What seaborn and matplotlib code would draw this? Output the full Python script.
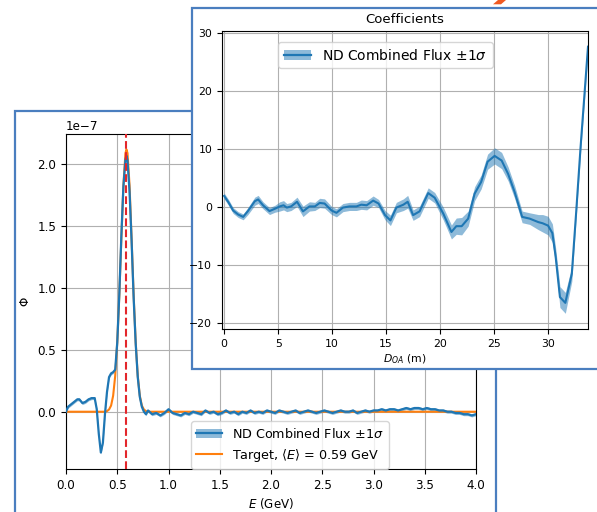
import numpy as np
import pandas as pd
import matplotlib
matplotlib.use("Agg")
import matplotlib.pyplot as plt
from matplotlib.patches import Rectangle, Polygon, Patch
from matplotlib.lines import Line2D
import seaborn as sns

# ---------------- data: back panel (flux, units of 1e-7) ----------------
energy = [0.00, 0.02, 0.05, 0.08, 0.11, 0.13, 0.16, 0.19, 0.22, 0.25, 0.28,
          0.30, 0.32, 0.34, 0.36, 0.38, 0.40, 0.42, 0.44, 0.46, 0.48, 0.49,
          0.50, 0.52, 0.54, 0.56, 0.58, 0.59, 0.60, 0.62, 0.64, 0.66, 0.68,
          0.70, 0.72, 0.74, 0.76, 0.78, 0.80,
          0.84, 0.88, 0.92, 0.96, 1.00, 1.04, 1.08, 1.12, 1.16, 1.20, 1.24,
          1.28, 1.32, 1.36, 1.40, 1.44, 1.48, 1.52, 1.56, 1.60, 1.64, 1.68,
          1.72, 1.76, 1.80, 1.84, 1.88, 1.92, 1.96, 2.00, 2.04, 2.08, 2.12,
          2.16, 2.20, 2.24, 2.28, 2.32, 2.36, 2.40, 2.44, 2.48, 2.52, 2.56,
          2.60, 2.64, 2.68, 2.72, 2.76, 2.80, 2.84, 2.88, 2.92, 2.96, 3.00,
          3.04, 3.08, 3.12, 3.16, 3.20, 3.24, 3.28, 3.32, 3.36, 3.40, 3.44,
          3.48, 3.52, 3.56, 3.60, 3.64, 3.68, 3.72, 3.76, 3.80, 3.84, 3.88,
          3.92, 3.96, 4.00]
nd_flux = [0.00, 0.04, 0.06, 0.08, 0.10, 0.10, 0.07, 0.08, 0.10, 0.11, 0.11,
           0.02, -0.18, -0.33, -0.25, -0.02, 0.16, 0.28, 0.31, 0.32, 0.34, 0.45,
           0.56, 0.95, 1.42, 1.82, 2.04, 2.07, 2.03, 1.78, 1.38, 0.92, 0.55,
           0.28, 0.12, 0.04, 0.00, -0.02, 0.01,
           -0.02, -0.01, -0.03, -0.01, 0.02, -0.01, -0.02, -0.03, -0.01, -0.02, 0.00,
           -0.01, -0.02, 0.01, -0.01, 0.00, -0.02, -0.01, 0.01, -0.01, 0.00, -0.02,
           0.00, -0.01, 0.01, -0.01, 0.00, -0.01, 0.01, 0.00, -0.01, 0.01, 0.00,
           -0.01, 0.00, 0.01, -0.01, 0.00, 0.01, 0.00, -0.01, 0.00, 0.01, 0.00,
           -0.01, 0.00, 0.01, 0.00, 0.00, 0.01, -0.01, 0.00, 0.01, 0.00, 0.01,
           0.01, 0.02, 0.01, 0.02, 0.02, 0.01, 0.02, 0.03, 0.02, 0.03, 0.03,
           0.02, 0.03, 0.02, 0.02, 0.01, 0.01, 0.00, 0.00, -0.01, -0.01, -0.02,
           -0.02, -0.03, -0.02]
nd_err = 0.012

target_energy = [0.00, 0.38, 0.40, 0.42, 0.44, 0.46, 0.48, 0.50, 0.52, 0.54,
                 0.56, 0.58, 0.59, 0.60, 0.62, 0.64, 0.66, 0.68, 0.70, 0.72,
                 0.74, 0.76, 0.78, 0.80, 4.00]
target_flux = [0.00, 0.00, 0.005, 0.018, 0.05, 0.13, 0.29, 0.56, 0.94, 1.40,
               1.83, 2.09, 2.12, 2.09, 1.83, 1.40, 0.94, 0.56, 0.29, 0.13,
               0.05, 0.018, 0.005, 0.00, 0.00]
target_mean = 0.59

# ---------------- data: inset (coefficients) ----------------
d_oa = [0.0, 0.4, 0.83, 1.3, 1.76, 2.2, 2.84, 3.15, 3.6, 4.2, 4.7, 5.15, 5.5,
        5.8, 6.2, 6.75, 7.3, 7.9, 8.4, 8.85, 9.3, 9.95, 10.4, 11.0, 11.6,
        12.25, 12.7, 13.2, 13.8, 14.3, 14.9, 15.4, 15.95, 16.6, 17.0, 17.5,
        18.1, 18.9, 19.5, 20.3, 21.05, 21.5, 22.0, 22.6, 23.2, 23.8, 24.4,
        25.05, 25.7, 26.3, 26.9, 27.6, 28.3, 29.1, 29.5, 30.0, 30.4, 30.7,
        31.1, 31.6, 32.2, 32.6, 33.0, 33.7]
coef = [1.9, 0.8, -0.6, -1.3, -1.7, -0.7, 1.0, 1.3, 0.3, -0.7, -0.3, 0.1, 0.3,
        -0.1, 0.1, 0.9, -0.75, 0.1, 0.1, 0.7, 0.6, -0.6, -1.0, -0.1, 0.1,
        0.1, 0.4, 0.3, 1.1, 0.6, -1.4, -2.3, -0.1, 0.4, 0.9, -1.4,
        -0.75, 2.4, 1.6, -1.15, -4.3, -3.3, -3.3, -2.0, 2.3, 4.3, 7.8,
        8.8, 8.0, 5.7, 2.6, -1.7, -2.0, -2.6, -2.8, -3.2, -4.5, -8.5,
        -15.5, -16.5, -11.5, -1.0, 10.0, 27.6]
coef_err = [0.5, 0.5, 0.5, 0.5, 0.5, 0.6, 0.7, 0.7, 0.6, 0.6, 0.6, 0.8, 0.8,
            0.7, 0.7, 0.8, 0.9, 0.8, 0.7, 0.8, 0.8, 0.7, 0.7, 0.7, 0.7,
            0.7, 0.8, 0.8, 0.8, 0.7, 0.8, 0.9, 0.9, 1.0, 1.1, 0.9,
            0.9, 0.9, 0.9, 1.1, 1.2, 1.4, 1.5, 1.3, 1.2, 1.2, 1.3,
            1.4, 1.4, 1.2, 1.1, 1.0, 1.0, 1.3, 1.5, 1.6, 1.6, 1.5,
            1.8, 1.8, 1.3, 1.0, 1.0, 1.0]

BLUE = "#1f77b4"
ORANGE = "#ff7f0e"
RED = "#e3262b"
FRAME = "#4a7ebf"

W, H = 597, 512
fig = plt.figure(figsize=(W / 100, H / 100), dpi=100)
fig.patch.set_facecolor("white")

def fx(px):
    return px / W

def fy(py):
    return 1 - py / H

# ---------------- back panel ----------------
flux_df = pd.DataFrame({"E": energy, "phi": np.array(nd_flux) * 1e-7})
targ_df = pd.DataFrame({"E": target_energy, "phi": np.array(target_flux) * 1e-7})

ax1 = fig.add_axes([fx(66), fy(469), fx(476) - fx(66), fy(134) - fy(469)])
ax1.set_zorder(1)
ax1.fill_between(flux_df["E"], flux_df["phi"] - nd_err * 1e-7,
                 flux_df["phi"] + nd_err * 1e-7, color=BLUE, alpha=0.5, lw=0)
sns.lineplot(data=targ_df, x="E", y="phi", ax=ax1, color=ORANGE, linewidth=1.5,
             estimator=None, sort=False, zorder=2)
sns.lineplot(data=flux_df, x="E", y="phi", ax=ax1, color=BLUE, linewidth=1.6,
             estimator=None, sort=False, zorder=3)
ax1.axvline(target_mean, color=RED, linestyle="--", linewidth=1.5, zorder=4)
ax1.set_xlim(0, 4.0)
ax1.set_ylim(-0.463e-7, 2.245e-7)
ax1.set_xticks([0.0, 0.5, 1.0, 1.5, 2.0, 2.5, 3.0, 3.5, 4.0])
ax1.set_yticks([0.0, 0.5e-7, 1.0e-7, 1.5e-7, 2.0e-7])
ax1.grid(True, color="#b0b0b0", linewidth=0.8)
ax1.set_axisbelow(True)
ax1.tick_params(labelsize=8.6)
ax1.yaxis.get_offset_text().set_fontsize(8.6)
ax1.set_xlabel("$E$ (GeV)", fontsize=8.6, labelpad=3)
ax1.set_ylabel(r"$\Phi$", fontsize=8.6)
h_nd = (Patch(facecolor=BLUE, alpha=0.5, edgecolor="none"),
        Line2D([], [], color=BLUE, linewidth=1.6))
h_t = Line2D([], [], color=ORANGE, linewidth=1.5)
ax1.legend([h_nd, h_t],
           [r"ND Combined Flux $\pm 1\sigma$", r"Target, $\langle E\rangle$ = 0.59 GeV"],
           loc="lower left", bbox_to_anchor=(0.305, 0.0), borderaxespad=0.,
           fontsize=9.2)

fig.add_artist(Rectangle((fx(15), -0.05), fx(496) - fx(15), fy(110.7) + 0.05,
                         transform=fig.transFigure, facecolor="none",
                         edgecolor=FRAME, linewidth=1.6, zorder=1.5))

# ---------------- inset panel ----------------
fig.add_artist(Rectangle((fx(192.3), fy(368.7)), 1.0, fy(7.5) - fy(368.7),
                         transform=fig.transFigure, facecolor="white",
                         edgecolor=FRAME, linewidth=1.6, zorder=2))

coef_df = pd.DataFrame({"D": d_oa, "c": coef, "err": coef_err})
ax2 = fig.add_axes([fx(222), fy(329), fx(588) - fx(222), fy(31) - fy(329)])
ax2.set_zorder(3)
ax2.fill_between(coef_df["D"], coef_df["c"] - coef_df["err"],
                 coef_df["c"] + coef_df["err"], color=BLUE, alpha=0.5, lw=0)
sns.lineplot(data=coef_df, x="D", y="c", ax=ax2, color=BLUE, linewidth=1.5,
             estimator=None, sort=False)
ax2.set_xlim(-0.2, 33.7)
ax2.set_ylim(-21.0, 30.3)
ax2.set_xticks([0, 5, 10, 15, 20, 25, 30])
ax2.set_yticks([-20, -10, 0, 10, 20, 30])
ax2.grid(True, color="#b0b0b0", linewidth=0.8)
ax2.set_axisbelow(True)
ax2.tick_params(labelsize=7.8)
ax2.set_xlabel(r"$D_{OA}$ (m)", fontsize=7.8, labelpad=3)
ax2.set_ylabel("")
ax2.set_title("Coefficients", fontsize=9.5, pad=6)
h_c = (Patch(facecolor=BLUE, alpha=0.5, edgecolor="none"),
       Line2D([], [], color=BLUE, linewidth=1.6))
ax2.legend([h_c], [r"ND Combined Flux $\pm 1\sigma$"], loc="upper left",
           bbox_to_anchor=(0.153, 0.963), borderaxespad=0., fontsize=10)

# ---------------- orange arrow tip (top) ----------------
fig.add_artist(Polygon([(fx(498), fy(0)), (fx(506), fy(0)), (fx(501), fy(4.3)),
                        (fx(493), fy(4.3))], closed=True, transform=fig.transFigure,
                       facecolor="#f05a22", edgecolor="none", zorder=4))

fig.savefig("out.png", dpi=100, facecolor="white")
